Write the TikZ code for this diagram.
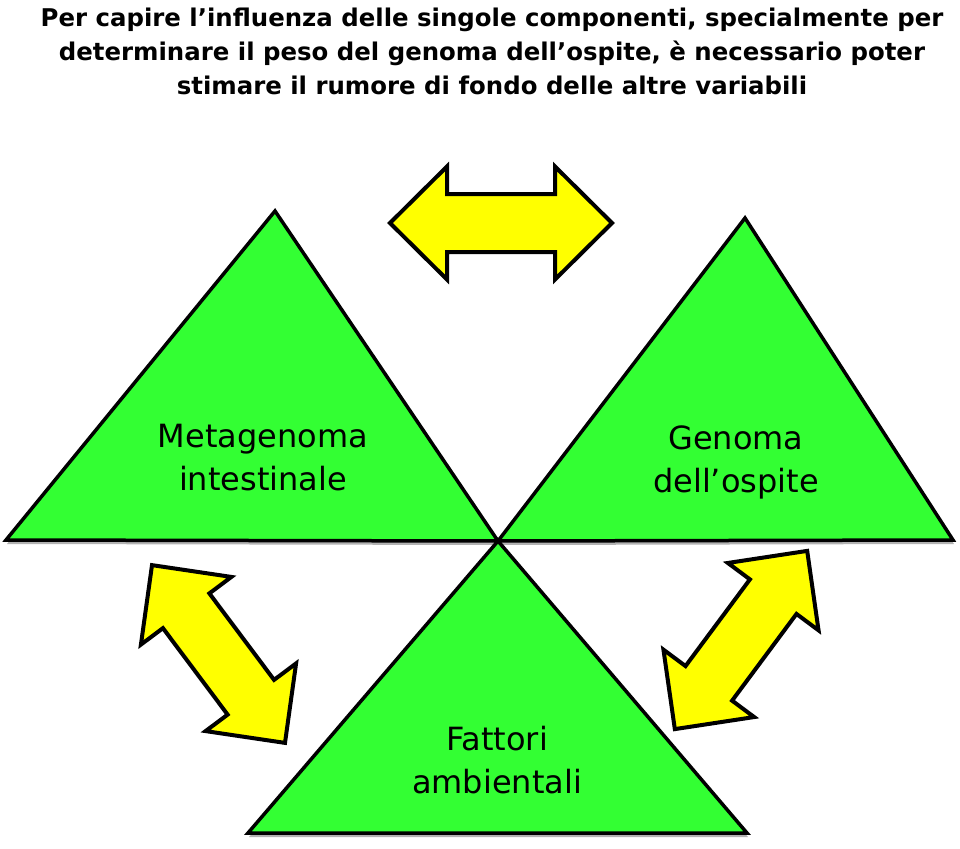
\documentclass[tikz,border=0pt]{standalone}
\usepackage{fontspec}
\setmainfont{DejaVu Sans}
\usetikzlibrary{shadows}
\definecolor{trigreen}{RGB}{51,255,51}
\definecolor{arrowyellow}{RGB}{255,255,0}
\tikzset{
  tri/.style={fill=trigreen,draw=black,line width=3.5pt,line join=miter,
    drop shadow={shadow xshift=1pt,shadow yshift=-4pt,opacity=0.3,fill=black}},
  yarrow/.style={fill=arrowyellow,draw=black,line width=4pt,line join=miter},
  trilabel/.style={font=\fontsize{32}{43}\selectfont,align=center},
  titletext/.style={font=\bfseries\fontsize{24.4}{34}\selectfont,align=center}
}
% double block arrow: #1 centre, #2 angle
\newcommand{\dblarrow}[2]{%
  \draw[yarrow,shift={#1},rotate=#2] (-111,0) -- (-54,56.5) -- (-54,29) -- (54,29)
    -- (54,56.5) -- (111,0) -- (54,-56.5) -- (54,-29) -- (-54,-29) -- (-54,-56.5) -- cycle;}

\begin{document}
\begin{tikzpicture}[x=1pt,y=-1pt]
\useasboundingbox (0,0) rectangle (960,848);
% \draw[help lines,step=50] (0,0) grid (960,848);
\node (title) [titletext] at (492,51) {Per capire l’influenza delle singole componenti, specialmente per\\
determinare il peso del genoma dell’ospite, è necessario poter\\
stimare il rumore di fondo delle altre variabili};
%
\coordinate (mid) at (498,541);
\draw[tri] (6,540) -- (275,211) -- (mid) -- cycle;
\draw[tri] (mid) -- (745,218) -- (953,540) -- cycle;
\draw[tri] (248,833) -- (mid) -- (747,833) -- cycle;
%
\node (meta) [trilabel] at (263,458) {Metagenoma\\intestinale};
\node (host) [trilabel] at (736,462) {Genoma\\dell’ospite};
\node (env) [trilabel] at (497,760) {Fattori\\ambientali};
%
\dblarrow{(501,223)}{0}
\dblarrow{(218.5,654)}{-53.2}
\dblarrow{(741,640)}{53.4}
\end{tikzpicture}
\end{document}
